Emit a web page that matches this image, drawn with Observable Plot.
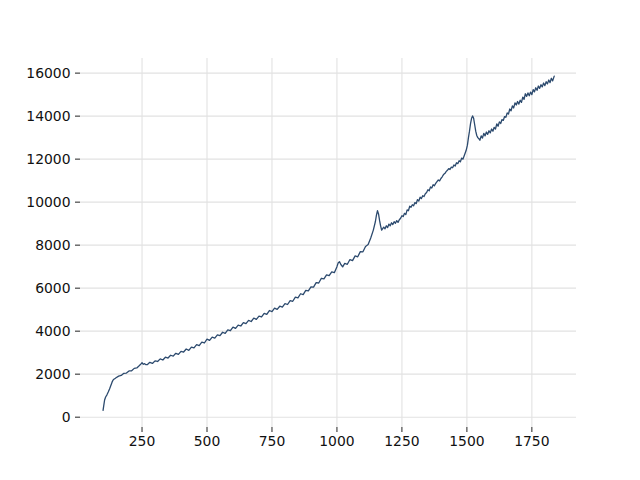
<!DOCTYPE html>
<html>
<head>
<meta charset="utf-8">
<script src="https://cdn.jsdelivr.net/npm/d3@7"></script>
<script src="https://cdn.jsdelivr.net/npm/@observablehq/plot@0.6"></script>
<style>
  html, body { margin: 0; padding: 0; background: #ffffff; }
  #chart { width: 640px; height: 480px; }
</style>
</head>
<body>
<div id="chart"></div>
<script>
const xValues = [100,103,106,110,115,120,125,130,135,140,145,150,160,170,180,190,200,210,220,230,240,248,250,255,260,265,270,280,290,300,310,320,330,340,350,360,370,380,390,400,410,420,430,440,450,460,470,480,490,500,510,520,530,540,550,560,570,580,590,600,610,620,630,640,650,660,670,680,690,700,710,720,730,740,750,760,770,780,790,800,810,820,830,840,850,860,870,880,890,900,910,920,930,940,950,960,970,980,990,1000,1005,1010,1015,1022,1030,1040,1050,1060,1070,1080,1090,1100,1110,1120,1130,1140,1148,1152,1156,1160,1164,1168,1172,1180,1185,1190,1195,1200,1205,1210,1215,1220,1225,1230,1235,1240,1245,1250,1255,1260,1265,1270,1275,1280,1285,1290,1295,1300,1305,1310,1315,1320,1325,1330,1335,1340,1345,1350,1355,1360,1365,1370,1375,1380,1385,1390,1395,1400,1405,1410,1415,1420,1425,1430,1435,1440,1445,1450,1455,1460,1465,1470,1475,1480,1485,1490,1497,1502,1506,1510,1514,1518,1522,1526,1530,1534,1538,1542,1546,1550,1555,1560,1565,1570,1575,1580,1585,1590,1595,1600,1605,1610,1615,1620,1625,1630,1635,1640,1645,1650,1655,1660,1665,1670,1675,1680,1685,1690,1695,1700,1705,1710,1715,1720,1725,1730,1735,1740,1745,1750,1755,1760,1765,1770,1775,1780,1785,1790,1795,1800,1805,1810,1815,1820,1825,1830,1836];
const yValues = [320,560,800,940,1040,1170,1310,1470,1640,1750,1790,1830,1910,1940,2040,2050,2150,2160,2270,2290,2400,2500,2530,2460,2490,2440,2440,2550,2500,2620,2590,2710,2660,2790,2750,2880,2840,2970,2920,3060,3030,3170,3110,3260,3220,3370,3330,3490,3450,3630,3570,3720,3680,3830,3790,3950,3900,4060,4020,4190,4130,4280,4240,4400,4350,4500,4450,4610,4550,4700,4660,4830,4780,4960,4910,5070,5010,5160,5120,5280,5240,5420,5390,5580,5550,5740,5700,5900,5870,6060,6050,6260,6240,6460,6430,6620,6580,6760,6720,7000,7180,7230,7100,6990,7150,7110,7330,7280,7500,7460,7700,7690,7940,8030,8330,8700,9100,9400,9600,9450,9150,8900,8700,8840,8760,8900,8820,8980,8900,9040,8960,9090,9020,9140,9060,9180,9250,9370,9330,9480,9420,9640,9600,9810,9760,9880,9830,9980,9930,10120,10050,10230,10170,10300,10260,10390,10450,10580,10530,10710,10660,10810,10760,10870,10950,11030,10990,11100,11180,11280,11330,11420,11480,11560,11520,11630,11600,11730,11680,11830,11790,11930,11880,12050,12000,12170,12400,12650,13000,13300,13650,13900,14010,13900,13600,13300,13100,13000,12950,12880,13080,12980,13200,13080,13260,13150,13320,13220,13400,13300,13480,13400,13640,13530,13730,13660,13840,13800,13980,13950,14150,14100,14330,14250,14480,14380,14620,14520,14680,14560,14740,14640,14880,14780,15040,14920,15080,14950,15120,15000,15230,15130,15320,15200,15400,15290,15460,15360,15540,15420,15600,15500,15680,15560,15760,15640,15860];
const xTicks = [250, 500, 750, 1000, 1250, 1500, 1750];
const yTicks = [0, 2000, 4000, 6000, 8000, 10000, 12000, 14000, 16000];

const data = xValues.map((x, i) => ({x, y: yValues[i]}));

const fontSize = 13.9;
const chart = Plot.plot({
  width: 640,
  height: 480,
  marginLeft: 80,
  marginRight: 64,
  marginTop: 58,
  marginBottom: 53,
  style: {fontFamily: "DejaVu Sans", fontSize: "13.9px", background: "#ffffff", color: "#111"},
  x: {domain: [13.25, 1921.75], label: null},
  y: {domain: [-480, 16680], label: null},
  marks: [
    Plot.gridX(xTicks, {stroke: "#e2e2e2", strokeOpacity: 1, strokeWidth: 1.1}),
    Plot.gridY(yTicks, {stroke: "#e2e2e2", strokeOpacity: 1, strokeWidth: 1.1}),
    Plot.axisX(xTicks, {tickSize: 5, tickPadding: 4, fontSize, tickFormat: d => String(d), stroke: "#222", fill: "#111"}),
    Plot.axisY(yTicks, {tickSize: 5, tickPadding: 5, fontSize, tickFormat: d => String(d), stroke: "#222", fill: "#111"}),
    Plot.line(data, {x: "x", y: "y", stroke: "#2c4a6e", strokeWidth: 1.3})
  ]
});
document.getElementById("chart").appendChild(chart);
</script>
</body>
</html>
